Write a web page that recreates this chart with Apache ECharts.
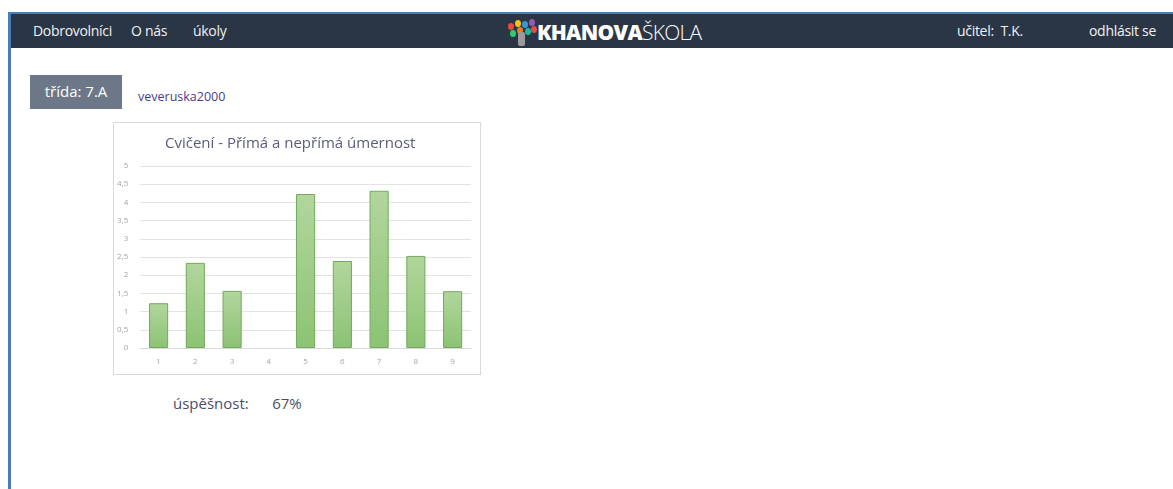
<!DOCTYPE html>
<html>
<head>
<meta charset="utf-8">
<script src="https://cdn.jsdelivr.net/npm/echarts@6/dist/echarts.min.js"></script>
<style>
  html, body { margin:0; padding:0; width:1173px; height:489px; background:#fff; overflow:hidden; font-family:"Open Sans","Noto Sans",sans-serif; }
  #frame { position:absolute; left:8px; top:12px; width:1165px; height:477px; border-left:3px solid #4a7db5; border-top:2px solid #4a7db5; box-sizing:border-box; }
  #nav { position:absolute; left:11px; top:14px; width:1162px; height:34px; background:#2a3546; color:#f2f2f2; }
  .nav-item { position:absolute; top:7px; font-size:14px; letter-spacing:-0.3px; }
  #logo { position:absolute; left:495px; top:3px; height:28px; }
  .dot { position:absolute; width:6px; height:7px; border-radius:50%; }
  #trida { position:absolute; left:30px; top:75px; width:92px; height:34px; background:#6c7887; color:#fff; font-size:15px; line-height:32px; text-align:center; }
  #user { position:absolute; left:138px; top:88px; font-size:12.5px; color:#4a3c8c; }
  #chart { position:absolute; left:113px; top:122px; width:368px; height:253px; border:1px solid #d9d9d9; box-sizing:border-box; }
  #succ { position:absolute; left:173px; top:393px; font-size:15px; color:#4a4e6a; white-space:pre; }
</style>
</head>
<body>
<div id="frame"></div>
<div id="nav">
  <span class="nav-item" style="left:22px">Dobrovolníci</span>
  <span class="nav-item" style="left:120px">O nás</span>
  <span class="nav-item" style="left:182px">úkoly</span>
  <div id="logo">
    <span class="dot" style="left:2px;top:6px;background:#e84c3d"></span>
    <span class="dot" style="left:9px;top:3px;background:#f1c40f"></span>
    <span class="dot" style="left:16px;top:4px;background:#3498db"></span>
    <span class="dot" style="left:23px;top:2px;background:#9b59b6"></span>
    <span class="dot" style="left:4px;top:13px;background:#2ecc71"></span>
    <span class="dot" style="left:11px;top:10px;background:#e67e22"></span>
    <span class="dot" style="left:19px;top:11px;background:#1abc9c"></span>
    <span class="dot" style="left:25px;top:9px;background:#e74c3c"></span>
    <span style="position:absolute;left:12px;top:15px;width:7px;height:14px;background:#9a9a9a;border-radius:2px"></span>
    <span style="position:absolute;left:31px;top:1px;font-size:21px;line-height:28px;color:#fff;white-space:nowrap;letter-spacing:-0.7px"><b style="font-weight:800">KHANOVA</b><span style="font-weight:300">ŠKOLA</span></span>
  </div>
  <span class="nav-item" style="left:946px">učitel:&nbsp; T.K.</span>
  <span class="nav-item" style="left:1078px">odhlásit se</span>
</div>
<div id="trida">třída: 7.A</div>
<div id="user">veveruska2000</div>
<div id="chart"></div>
<div id="succ">úspěšnost:      67%</div>
<script>
const chartTitle = 'Cvičení - Přímá a nepřímá úmernost';
const categories = ['1','2','3','4','5','6','7','8','9'];
const values = [1.23, 2.34, 1.57, 0, 4.23, 2.39, 4.32, 2.53, 1.56];
const yMin = 0, yMax = 5, yStep = 0.5;

const chart = echarts.init(document.getElementById('chart'), null, {renderer:'canvas'});
chart.setOption({
  animation:false,
  title:{ text:chartTitle, left:46, top:8, textStyle:{ fontFamily:'Open Sans', fontSize:15, fontWeight:'normal', color:'#5a5d7a' } },
  grid:{ left:24, right:9, top:43, bottom:26, containLabel:false },
  xAxis:{
    type:'category', data:categories,
    axisLine:{ show:true, lineStyle:{ color:'#d9d9d9' } },
    axisTick:{ show:false },
    axisLabel:{ color:'#a6a6a6', fontSize:8, margin:10, fontFamily:'Open Sans' }
  },
  yAxis:{
    type:'value', min:yMin, max:yMax, interval:yStep,
    axisLine:{ show:false }, axisTick:{ show:false },
    splitLine:{ lineStyle:{ color:'#e3e3e3' } },
    axisLabel:{ color:'#a0a4b0', fontSize:8, margin:12, fontFamily:'Open Sans',
      formatter:v => String(v).replace('.', ',') }
  },
  series:[{
    type:'bar', barWidth:'52%',
    data: values.map(v => v === 0 ? { value:v, itemStyle:{ borderWidth:0 } } : v),
    itemStyle:{
      color:new echarts.graphic.LinearGradient(0,0,0,1,[{offset:0,color:'#b2d69d'},{offset:1,color:'#8cc374'}]),
      borderColor:'#72a95a', borderWidth:1
    }
  }]
});
</script>
</body>
</html>
